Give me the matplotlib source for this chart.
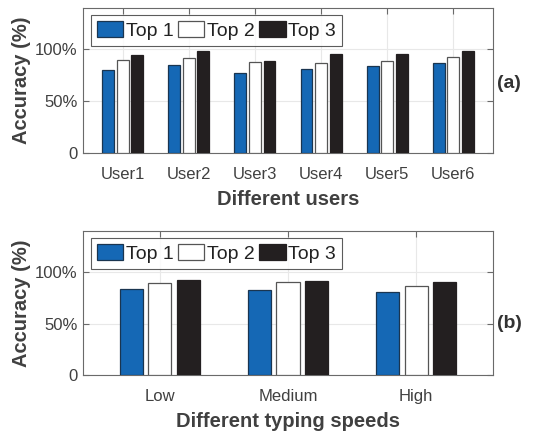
import matplotlib
matplotlib.use("Agg")
import matplotlib.pyplot as plt
import numpy as np

plt.rcParams['font.family'] = ['Liberation Sans', 'DejaVu Sans']

users = ["User1", "User2", "User3", "User4", "User5", "User6"]
users_top1 = [79.7, 84.8, 77.7, 81.0, 84.2, 86.8]
users_top2 = [89.4, 91.3, 88.1, 87.1, 88.4, 92.6]
users_top3 = [94.8, 98.1, 89.0, 95.8, 95.5, 98.1]

speeds = ["Low", "Medium", "High"]
speeds_top1 = [83.9, 82.3, 80.3]
speeds_top2 = [89.7, 90.0, 86.5]
speeds_top3 = [92.3, 91.3, 90.0]

series_names = ["Top 1", "Top 2", "Top 3"]
colors = ["#1568b5", "#ffffff", "#231f20"]
edges = ["#1a3550", "#555555", "#231f20"]
ytick_vals = [0, 50, 100]
ytick_labels = ["0", "50%", "100%"]

TXT = "#404040"
SPINE = "#6a6a6a"

fig = plt.figure(figsize=(5.54, 4.32), dpi=100)

def panel(rect, cats, data, xlabel, tag, tag_y):
    ax = fig.add_axes(rect)
    x = np.arange(1, len(cats) + 1)
    off = 0.22
    w = 0.18
    for i, (vals, c, e, name) in enumerate(zip(data, colors, edges, series_names)):
        ax.bar(x + (i - 1) * off, vals, width=w, color=c, edgecolor=e,
               linewidth=0.9, label=name, zorder=3)
    ax.set_xlim(0.4, len(cats) + 0.6)
    ax.set_ylim(0, 140)
    ax.set_xticks(x)
    ax.set_xticklabels(cats)
    ax.set_yticks(ytick_vals)
    ax.set_yticklabels(ytick_labels)
    ax.grid(True, color="#e8e8e8", linewidth=0.8, zorder=0)
    ax.set_axisbelow(True)
    ax.tick_params(direction="in", length=4, width=0.8, color=SPINE,
                   top=True, right=True, labelsize=12, labelcolor=TXT)
    ax.tick_params(axis="x", pad=10)
    ax.tick_params(axis="y", pad=4)
    for s in ax.spines.values():
        s.set_color(SPINE)
        s.set_linewidth(0.8)
    ax.set_xlabel(xlabel, fontsize=14.5, fontweight="bold", color=TXT, labelpad=6)
    ax.set_ylabel("Accuracy (%)", fontsize=14.5, fontweight="bold", color=TXT, labelpad=3)
    leg = ax.legend(loc="upper left", bbox_to_anchor=(0.02, 0.95), ncol=3,
                    fontsize=14, frameon=True, fancybox=False,
                    handlelength=1.35, handleheight=0.9, handletextpad=0.12,
                    columnspacing=0.25, borderpad=0.3, borderaxespad=0)
    leg.get_frame().set_edgecolor("#333333")
    leg.get_frame().set_linewidth(0.8)
    for t in leg.get_texts():
        t.set_color("#222222")
    fig.text(497 / 554, tag_y, tag, fontsize=14, fontweight="bold",
             color="#333333", ha="left", va="center")
    return ax

panel([83 / 554, 1 - 153 / 432, 410 / 554, 145 / 432], users,
      [users_top1, users_top2, users_top3], "Different users", "(a)", 1 - 83 / 432)
panel([83 / 554, 1 - 375 / 432, 410 / 554, 144 / 432], speeds,
      [speeds_top1, speeds_top2, speeds_top3], "Different typing speeds", "(b)", 1 - 324 / 432)

fig.savefig("out.png", dpi=100)
